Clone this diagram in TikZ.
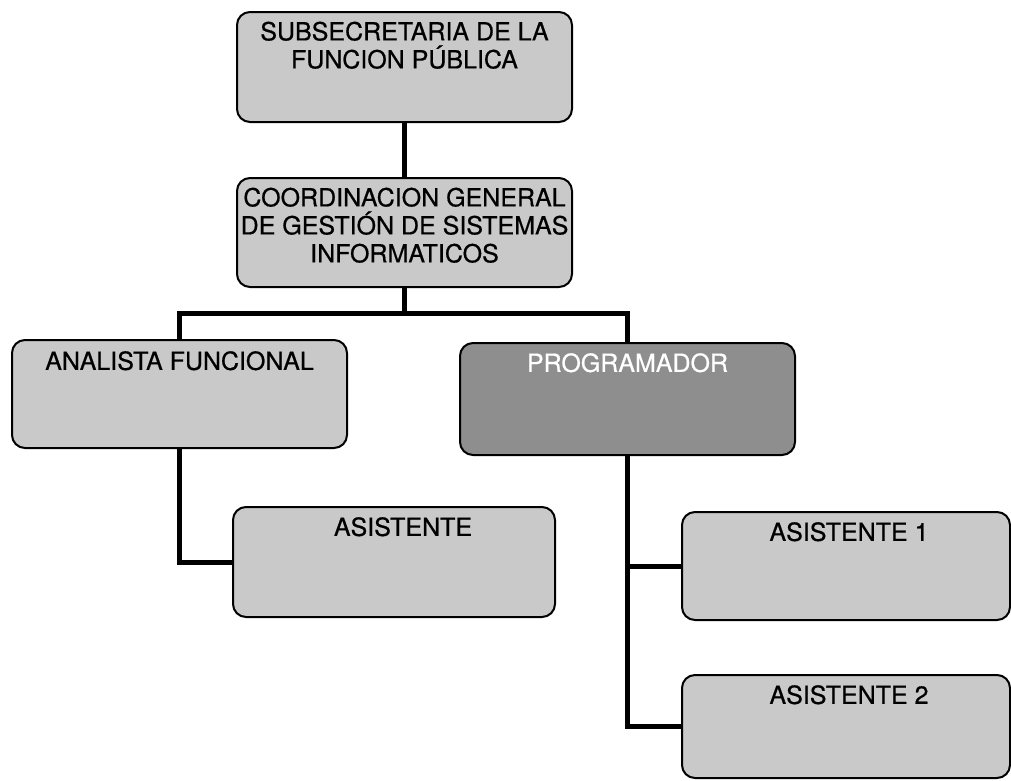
\documentclass[tikz,border=0pt]{standalone}
\usepackage{fontspec}
\setmainfont{TeX Gyre Heros}[FakeBold=0.6]
\definecolor{boxlight}{HTML}{C9C9C9}
\definecolor{boxdark}{HTML}{8E8E8E}
\begin{document}
\begin{tikzpicture}[x=1pt,y=-1pt,
  box/.style={draw=black, line width=2pt, rounded corners=13pt, fill=boxlight, inner sep=0pt},
  darkbox/.style={box, fill=boxdark},
  txt/.style={anchor=north, inner sep=0pt, align=center, font=\fontsize{25}{28}\selectfont},
  conn/.style={draw=black, line width=5pt, line join=miter, line cap=butt}]
\useasboundingbox (0,0) rectangle (1011,780);
% boxes
\node[box, minimum width=335pt, minimum height=110pt] (top) at (404.5,67) {};
\node[box, minimum width=335pt, minimum height=109pt] (coord) at (404.5,232.5) {};
\node[box, minimum width=335pt, minimum height=108pt] (analista) at (179.5,394) {};
\node[darkbox, minimum width=335pt, minimum height=112pt] (prog) at (627.5,399) {};
\node[box, minimum width=322pt, minimum height=110pt] (asis) at (394,562) {};
\node[box, minimum width=328pt, minimum height=108pt] (asis1) at (846,566) {};
\node[box, minimum width=328pt, minimum height=103pt] (asis2) at (846,726.5) {};
% texts
\node[txt] (topT) at ([yshift=-10.5pt]top.north) {SUBSECRETARIA DE LA\\FUNCION PÚBLICA};
\node[txt] (coordT) at ([yshift=-10.5pt]coord.north) {COORDINACION GENERAL\\DE GESTIÓN DE SISTEMAS\\INFORMATICOS};
\node[txt] (analistaT) at ([yshift=-12pt]analista.north) {ANALISTA FUNCIONAL};
\node[txt, text=white] (progT) at ([yshift=-11pt]prog.north) {PROGRAMADOR};
\node[txt] (asisT) at ([xshift=9pt,yshift=-11pt]asis.north) {ASISTENTE};
\node[txt] (asis1T) at ([xshift=3pt,yshift=-11pt]asis1.north) {ASISTENTE 1};
\node[txt] (asis2T) at ([xshift=3pt,yshift=-11pt]asis2.north) {ASISTENTE 2};
% connectors
\coordinate (bus) at (404.5,313);
\draw[conn] (top.south) -- (coord.north);
\draw[conn] (coord.south) -- (bus);
\draw[conn] (analista.north) |- (bus) -| (prog.north);
\draw[conn] (analista.south) |- (asis.west);
\draw[conn] (prog.south) |- (asis2.west);
\draw[conn] (prog.south) |- (asis1.west);
\end{tikzpicture}
\end{document}
